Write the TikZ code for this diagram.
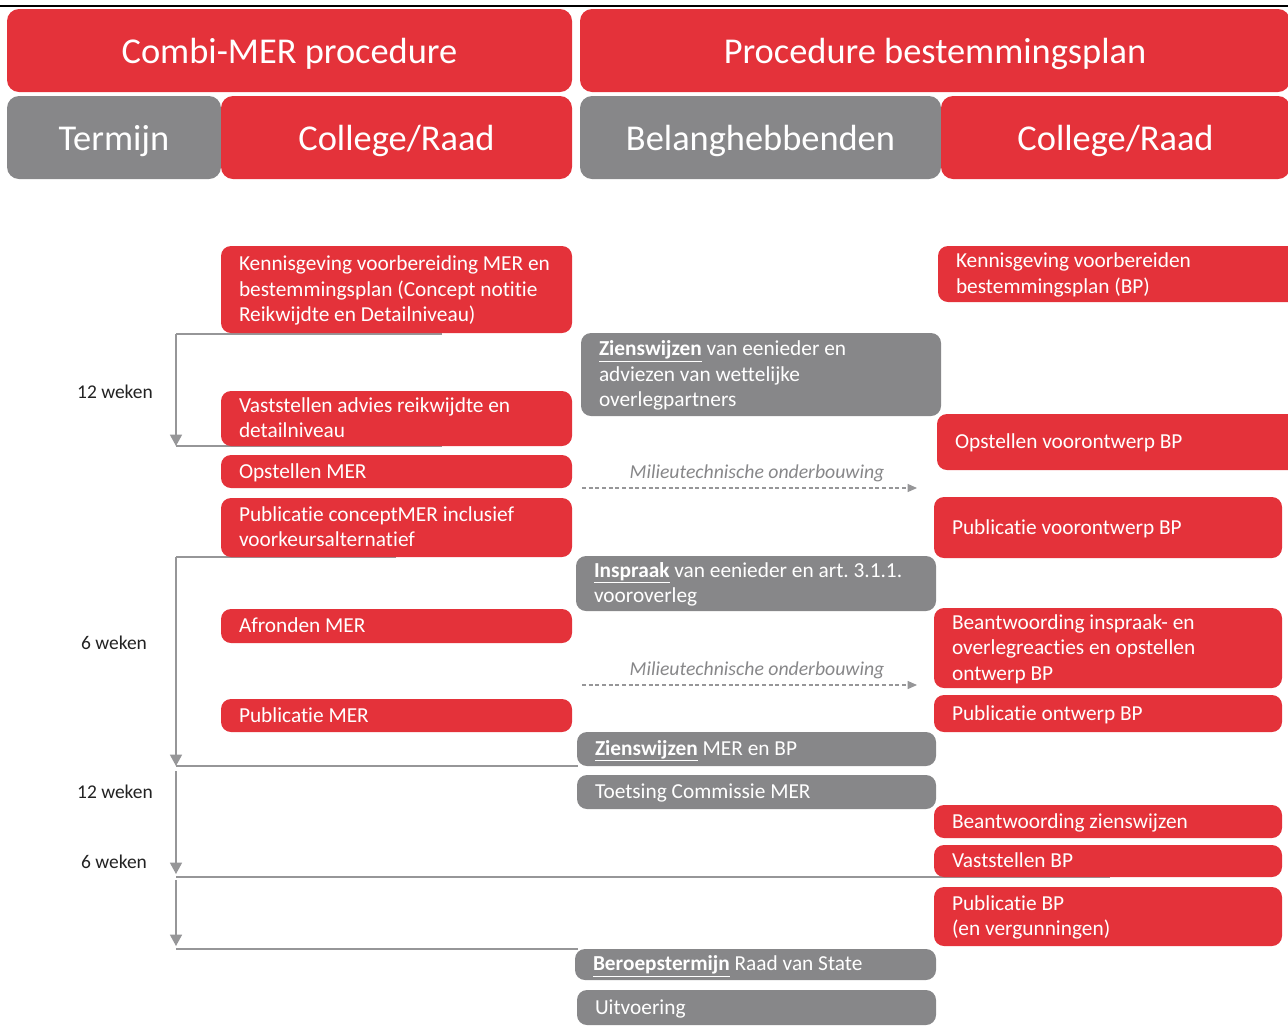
\documentclass[tikz,border=0pt]{standalone}
\usepackage{fontspec}
\setmainfont{Carlito}[Ligatures=NoCommon]
\usetikzlibrary{arrows.meta}
\definecolor{mred}{RGB}{228,50,58}
\definecolor{mgrey}{RGB}{135,135,137}
\definecolor{lgrey}{RGB}{150,150,152}
\definecolor{wtxt}{RGB}{34,34,34}
\newcommand{\mybox}[7]{%
  \pgfmathsetlengthmacro\mybw{(#5-#3)*0.75pt}%
  \pgfmathsetlengthmacro\mybh{(#6-#4)*0.75pt}%
  \pgfmathsetlengthmacro\mytw{(#5-#3-36)*0.75pt}%
  \node[text width=\mytw, #2, minimum width=\mybw, minimum height=\mybh, anchor=north west] (#1) at (#3,#4) {\spaceskip=0pt\xspaceskip=0pt\frenchspacing #7};}
\newcommand{\ul}[1]{\underline{\textbf{#1}}}
\begin{document}
\begin{tikzpicture}[x=0.75pt,y=-0.75pt,
  boxst/.style={rounded corners=7.5pt, inner xsep=13.5pt, inner ysep=0pt, outer sep=0pt, text=white, align=left, font=\fontsize{16}{19.1}\selectfont, execute at begin node={\rule{0pt}{14pt}}, execute at end node={\rule[-4pt]{0pt}{4pt}}},
  hdr/.style={text width=, rounded corners=9pt, inner xsep=0pt, inner ysep=0pt, outer sep=0pt, text=white, font=\fontsize{27.3}{32}\selectfont, execute at begin node={\rule{0pt}{26pt}}, execute at end node={\rule[-6.4pt]{0pt}{6.4pt}}},
  tl/.style={draw=lgrey, line width=1.1pt},
  tarrow/.style={tl, -{Triangle[width=9pt,length=8.5pt]}},
  dasharr/.style={draw=lgrey, line width=0.9pt, dash pattern=on 3pt off 2pt, -{Triangle[width=6pt,length=7pt]}},
  wk/.style={font=\fontsize{14.6}{17}\selectfont, text=wtxt},
  mt/.style={font=\fontsize{14.8}{18}\selectfont\itshape, text=mgrey}]
\useasboundingbox (0,0) rectangle (1288,1029);
\clip (0,0) rectangle (1288,1029);
% top rule
\coordinate (r0) at (0,6); \coordinate (r1) at (1288,6);
\draw[line width=2.2pt] (r0) -- (r1);
% timeline coordinates
\coordinate (a1) at (176,334); \coordinate (a1e) at (442,334);
\coordinate (a2) at (176,446); \coordinate (a2e) at (442,446);
\coordinate (b1) at (176,557); \coordinate (b1e) at (396,557);
\coordinate (b2) at (176,766); \coordinate (b2e) at (578,766);
\coordinate (c1) at (176,771); \coordinate (c2) at (176,874);
\coordinate (c3) at (176,877); \coordinate (c3e) at (1110,877);
\coordinate (d1) at (176,880); \coordinate (d2) at (176,946);
\coordinate (d3) at (176,949); \coordinate (d3e) at (578,949);
\draw[tl] (a1) -- (a1e);
\draw[tl] (a2) -- (a2e);
\draw[tl] (b1) -- (b1e);
\draw[tl] (b2) -- (b2e);
\draw[tl] (c3) -- (c3e);
\draw[tl] (d3) -- (d3e);
\draw[tarrow] (a1) -- (a2);
\draw[tarrow] (b1) -- (b2);
\draw[tarrow] (c1) -- (c2);
\draw[tarrow] (d1) -- (d2);
% headers
\mybox{h1}{hdr, fill=mred}{7}{9}{572}{92}{Combi-MER procedure}
\mybox{h2}{hdr, fill=mred}{580}{9}{1290}{92}{Procedure bestemmingsplan}
\mybox{h3}{hdr, fill=mgrey}{7}{96}{221}{179}{Termijn}
\mybox{h4}{hdr, fill=mred}{221}{96}{572}{179}{College/Raad}
\mybox{h5}{hdr, fill=mgrey}{580}{96}{941}{179}{Belanghebbenden}
\mybox{h6}{hdr, fill=mred}{941}{96}{1290}{179}{College/Raad}
% left column
\mybox{l1}{boxst, fill=mred}{221}{246}{572}{333}{Kennisgeving voorbereiding MER en\\bestemmingsplan (Concept notitie\\Reikwijdte en Detailniveau)}
\mybox{l2}{boxst, fill=mred}{221}{391}{572}{446}{Vaststellen advies reikwijdte en\\detailniveau}
\mybox{l3}{boxst, fill=mred}{221}{455}{572}{488}{Opstellen MER}
\mybox{l4}{boxst, fill=mred}{221}{498}{572}{557}{Publicatie conceptMER inclusief\\voorkeursalternatief}
\mybox{l5}{boxst, fill=mred}{221}{609}{572}{643}{Afronden MER}
\mybox{l6}{boxst, fill=mred}{221}{699}{572}{732}{Publicatie MER}
% middle column
\mybox{m1}{boxst, fill=mgrey}{581}{333}{941}{416}{\ul{Zienswijzen} van eenieder en\\adviezen van wettelijke\\overlegpartners}
\mybox{m2}{boxst, fill=mgrey}{576}{556}{936}{611}{\ul{Inspraak} van eenieder en art. 3.1.1.\\vooroverleg}
\mybox{m3}{boxst, fill=mgrey}{577}{732}{936}{766}{\ul{Zienswijzen} MER en BP}
\mybox{m4}{boxst, fill=mgrey}{577}{775}{936}{809}{Toetsing Commissie MER}
\mybox{m5}{boxst, fill=mgrey}{575}{949}{936}{980}{\ul{Beroepstermijn} Raad van State}
\mybox{m6}{boxst, fill=mgrey}{577}{990}{936}{1025}{Uitvoering}
% right column
\mybox{r1}{boxst, fill=mred}{938}{246}{1300}{302}{Kennisgeving voorbereiden\\bestemmingsplan (BP)}
\mybox{r2}{boxst, fill=mred}{937}{414}{1300}{470}{Opstellen voorontwerp BP}
\mybox{r3}{boxst, fill=mred}{934}{497}{1282}{558}{Publicatie voorontwerp BP}
\mybox{r4}{boxst, fill=mred}{934}{608}{1282}{688}{Beantwoording inspraak- en\\overlegreacties en opstellen\\ontwerp BP}
\mybox{r5}{boxst, fill=mred}{934}{695}{1282}{732}{Publicatie ontwerp BP}
\mybox{r6}{boxst, fill=mred}{934}{805}{1282}{838}{Beantwoording zienswijzen}
\mybox{r7}{boxst, fill=mred}{934}{845}{1282}{877}{Vaststellen BP}
\mybox{r8}{boxst, fill=mred}{934}{887}{1282}{946}{Publicatie BP\\(en vergunningen)}
% dashed arrows
\coordinate (e1s) at (582,488); \coordinate (e1e) at (917,488);
\draw[dasharr] (e1s) -- (e1e);
\node[mt] (lab1) at (757,473) {Milieutechnische onderbouwing};
\coordinate (e2s) at (582,685); \coordinate (e2e) at (917,685);
\draw[dasharr] (e2s) -- (e2e);
\node[mt] (lab2) at (757,670) {Milieutechnische onderbouwing};
% term labels
\node[wk] (w1) at (115,392) {12 weken};
\node[wk] (w2) at (114,643) {6 weken};
\node[wk] (w3) at (115,792) {12 weken};
\node[wk] (w4) at (114,862) {6 weken};
\end{tikzpicture}
\end{document}
